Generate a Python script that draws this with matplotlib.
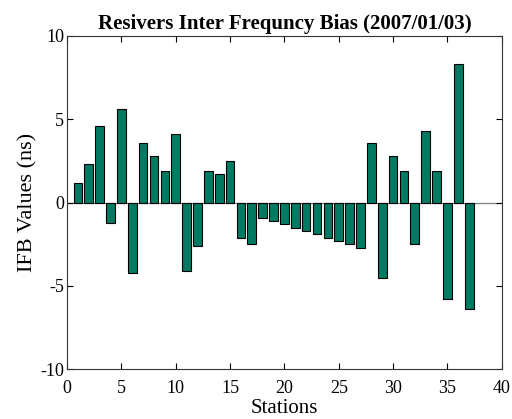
import numpy as np
import matplotlib
matplotlib.use("Agg")
import matplotlib.pyplot as plt

plt.rcParams['font.family'] = ['Liberation Serif', 'DejaVu Serif']
plt.rcParams['axes.unicode_minus'] = False

# inter-frequency bias per receiver station
stations = np.arange(1, 38)
ifb = [1.2, 2.3, 4.6, -1.2, 5.6, -4.2, 3.6, 2.8, 1.9, 4.1,
       -4.1, -2.6, 1.9, 1.7, 2.5, -2.1, -2.5, -0.9, -1.1, -1.3,
       -1.5, -1.7, -1.9, -2.1, -2.3, -2.5, -2.7, 3.6, -4.5, 2.8,
       1.9, -2.5, 4.3, 1.9, -5.8, 8.3, -6.4]

fig = plt.figure(figsize=(5.12, 4.19), dpi=100)
ax = fig.add_axes([0.131, 0.1186, 0.849, 0.7955])

ax.bar(stations, ifb, width=0.8, color='#007a63', edgecolor='black', linewidth=0.8, zorder=2)
ax.axhline(0, color='#808080', linewidth=0.9, zorder=1)

ax.set_xlim(0, 40)
ax.set_ylim(-10, 10)
ax.set_xticks(range(0, 41, 5))
ax.set_yticks([-10, -5, 0, 5, 10])
ax.tick_params(direction='in', top=True, right=True, labelsize=13, length=4, width=0.8)
ax.tick_params(axis='x', pad=8)
ax.tick_params(axis='y', pad=2)
for s in ax.spines.values():
    s.set_linewidth(0.8)
    s.set_color('#333333')

ax.set_xlabel('Stations', fontsize=15, labelpad=1)
ax.set_ylabel('IFB Values (ns)', fontsize=16, labelpad=2)
ax.set_title('Resivers Inter Frequncy Bias (2007/01/03)', fontsize=15, fontweight='bold', pad=5)

fig.savefig('out.png', dpi=100)
